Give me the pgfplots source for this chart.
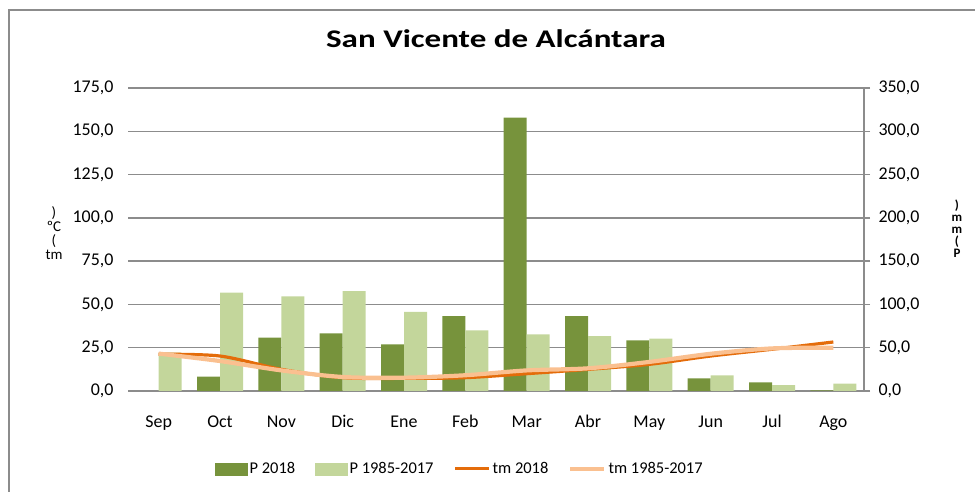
\documentclass[border=0pt]{standalone}
\usepackage{fontspec}
\setmainfont{Carlito}
\newfontfamily\titlefont{Carlito}[FakeStretch=1.3]
\usepackage{pgfplots}
\pgfplotsset{compat=1.18}

\definecolor{pdark}{HTML}{77933C}
\definecolor{plight}{HTML}{C3D69B}
\definecolor{tdark}{HTML}{E46C0A}
\definecolor{tlight}{HTML}{FAC090}
\definecolor{gridgray}{HTML}{8C8C8C}

\pgfplotsset{
  common/.style={
    scale only axis, width=736bp, height=303bp,
    at={(128bp,101bp)}, anchor=south west,
    xmin=-0.5, xmax=11.5, ymin=0,
    tick label style={font=\fontsize{18}{21}\selectfont},
    /pgf/number format/fixed,
    /pgf/number format/fixed zerofill,
    /pgf/number format/precision=1,
    /pgf/number format/use comma,
    /pgf/number format/1000 sep={},
    /pgf/number format/assume math mode=true,
  }
}

\begin{document}
\begin{tikzpicture}
\path[use as bounding box] (0,0) rectangle (975bp,492bp);
% chart frame (right and bottom edges are cut off)
\draw[gridgray, line width=2bp] (9bp,0) -- (9bp,482bp) -- (975bp,482bp);

% precipitation, right axis (mm)
\begin{axis}[common,
    ymax=350, ytick={0,50,...,350},
    axis y line*=right, axis x line*=bottom,
    ymajorgrids, grid style={gridgray, line width=1.5bp},
    x axis line style={gridgray, line width=1.5bp, -},
    y axis line style={gridgray, line width=1.5bp, -},
    ytick style={gridgray, line width=1.5bp},
    major tick length=6bp, tick align=outside,
    xtick={0,...,11},
    xticklabels={Sep,Oct,Nov,Dic,Ene,Feb,Mar,Abr,May,Jun,Jul,Ago},
    xtick style={draw=none},
    xticklabel style={yshift=-15bp},
    yticklabel style={xshift=5bp},
    ybar=0pt, bar width=23bp,
  ]
  % P 2018
  \addplot[fill=pdark, draw=none] coordinates {
    (0,0) (1,16.5) (2,61.6) (3,66.6) (4,53.9) (5,86.6)
    (6,315.7) (7,86.6) (8,58.5) (9,14.7) (10,10.0) (11,0.6)};
  % P 1985-2017
  \addplot[fill=plight, draw=none] coordinates {
    (0,44.2) (1,113.5) (2,109.4) (3,115.5) (4,91.3) (5,70.1)
    (6,65.5) (7,63.5) (8,60.4) (9,18.1) (10,6.9) (11,8.5)};
\end{axis}

% temperature, left axis
\begin{axis}[common,
    ymax=175, ytick={0,25,...,175},
    axis y line*=left, axis x line=none, xtick=\empty,
    y axis line style={draw=none}, ytick style={draw=none},
    yticklabel style={xshift=-11bp},
    legend columns=4,
    legend style={at={(0.451,-0.257)}, anchor=center, draw=none,
      font=\fontsize{16.5}{19}\selectfont,
      nodes={inner xsep=2bp},
      /tikz/every even column/.append style={column sep=18bp}},
    legend image code/.code={\draw[#1] (0bp,0bp) -- (34bp,0bp);},
  ]
  \addlegendimage{legend image code/.code={\fill[pdark] (0bp,-6bp) rectangle (32bp,6bp);}}
  \addlegendentry{P 2018}
  \addlegendimage{legend image code/.code={\fill[plight] (0bp,-6bp) rectangle (32bp,6bp);}}
  \addlegendentry{P 1985-2017}
  \addplot[tdark, line width=3.2bp, smooth] coordinates {
    (0,21.2) (1,20.2) (2,12.5) (3,7.7) (4,7.3) (5,7.7)
    (6,10.0) (7,12.5) (8,15.4) (9,20.2) (10,24.1) (11,28.3)};
  \addlegendentry{tm 2018}
  \addplot[tlight, line width=4.2bp, smooth] coordinates {
    (0,21.6) (1,17.3) (2,11.9) (3,8.1) (4,7.7) (5,9.1)
    (6,11.9) (7,13.1) (8,16.8) (9,21.5) (10,24.6) (11,25.0)};
  \addlegendentry{tm 1985-2017}
\end{axis}

\node[anchor=base, font=\titlefont\bfseries\fontsize{25.5}{30}\selectfont]
  at (496bp,444bp) {San Vicente de Alcántara};
% axis titles, drawn stacked as in the reference
\node[align=center, font=\fontsize{15}{14}\selectfont] at (54bp,259bp) {)\\ºC\\(\\tm};
\node[align=center, font=\bfseries\fontsize{13}{12}\selectfont] at (957bp,263bp) {)\\m\\m\\(\\P};
\end{tikzpicture}
\end{document}
